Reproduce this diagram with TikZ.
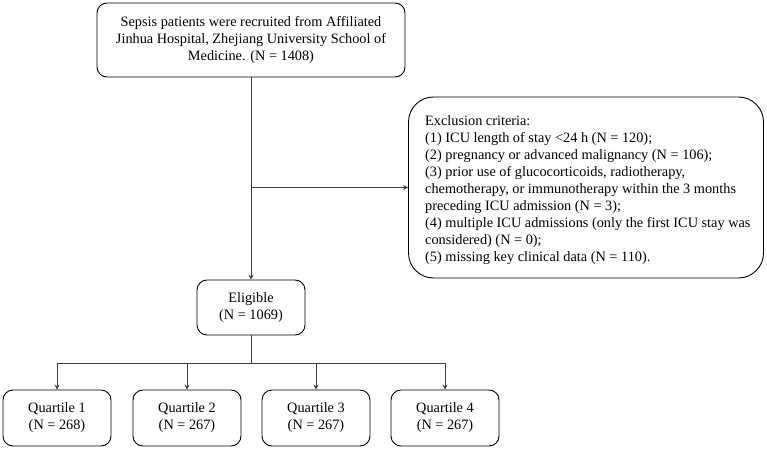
\documentclass[tikz,border=0pt]{standalone}
\usepackage{fontspec}
\setmainfont{Liberation Serif}
\usetikzlibrary{arrows.meta}
\begin{document}
\begin{tikzpicture}[x=1pt,y=-1pt,
  txt/.style={font=\fontsize{14.3}{17}\selectfont,inner sep=0pt},
  box/.style={txt,draw=black,line width=0.9pt,rounded corners=10pt,align=center},
  link/.style={draw=black!75,line width=0.8pt},
  arr/.style={link,-{Stealth[length=5pt,width=5pt]}}]
\useasboundingbox (0,0) rectangle (767,454);
% recruitment and eligibility
\node[box,minimum width=308pt,minimum height=74pt] (src) at (251,40)
  {Sepsis patients were recruited from Affiliated\\Jinhua Hospital, Zhejiang University School of\\Medicine. (N = 1408)};
\node[box,minimum width=108pt,minimum height=55pt] (elig) at (251,307.5)
  {Eligible\\(N = 1069)};
% exclusion criteria: frame and left-aligned list
\node[draw=black,line width=0.9pt,rounded corners=25pt,minimum width=355pt,
      minimum height=181pt,inner sep=0pt] (excl) at (586,187.5) {};
\node[txt,align=left,anchor=west] (exctext) at (425,190)
  {Exclusion criteria:\\
   (1) ICU length of stay <24 h (N = 120);\\
   (2) pregnancy or advanced malignancy (N = 106);\\
   (3) prior use of glucocorticoids, radiotherapy,\\
   chemotherapy, or immunotherapy within the 3 months\\
   preceding ICU admission (N = 3);\\
   (4) multiple ICU admissions (only the first ICU stay was\\
   considered) (N = 0);\\
   (5) missing key clinical data (N = 110).};
% quartile groups
\foreach \i/\x/\n in {1/57/268,2/187/267,3/316/267,4/445/267}{
  \node[box,minimum width=108pt,minimum height=56pt] (q\i) at (\x,418) {Quartile \i\\(N = \n)};
}
% connectors
\draw[arr] (src.south) -- (elig.north);
\coordinate (split) at (src.south |- excl.west);
\draw[arr] (split) -- (excl.west);
\coordinate (fork) at (251,363);
\draw[link] (elig.south) -- (fork);
\draw[link] (fork -| q1.north) -- (fork -| q4.north);
\foreach \i in {1,...,4}{
  \draw[arr] (fork -| q\i.north) -- (q\i.north);
}
\end{tikzpicture}
\end{document}
